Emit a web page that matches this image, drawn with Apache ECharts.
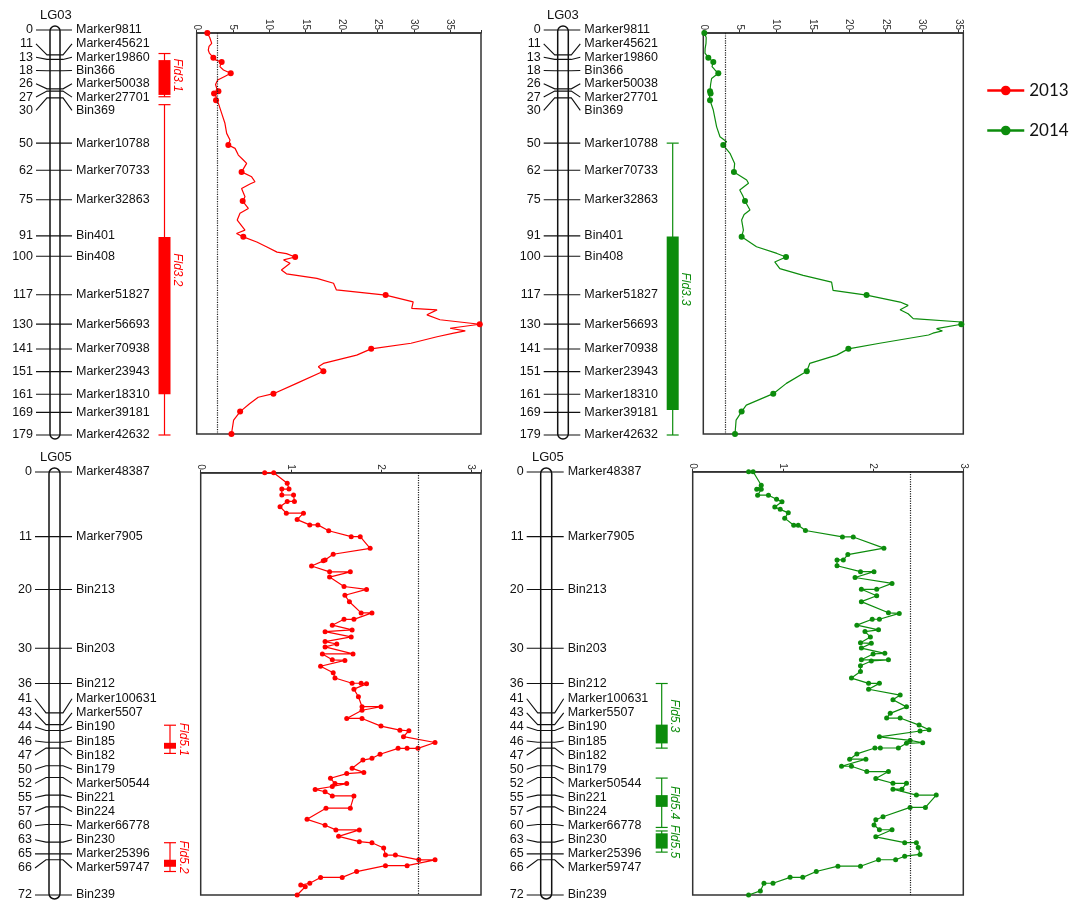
<!DOCTYPE html>
<html>
<head>
<meta charset="utf-8">
<script src="https://cdn.jsdelivr.net/npm/echarts/dist/echarts.min.js"></script>
<style>
html, body { margin: 0; padding: 0; background: #fff; }
#chart { width: 1069px; height: 900px; }
</style>
</head>
<body>
<div id="chart"></div>
<script>
// ---- data ----
var years = ['2013', '2014'];

var lg03Pos = [0, 11, 13, 18, 26, 27, 30, 50, 62, 75, 91, 100, 117, 130, 141, 151, 161, 169, 179];
var lg03Names = ['Marker9811', 'Marker45621', 'Marker19860', 'Bin366', 'Marker50038', 'Marker27701', 'Bin369',
    'Marker10788', 'Marker70733', 'Marker32863', 'Bin401', 'Bin408', 'Marker51827', 'Marker56693',
    'Marker70938', 'Marker23943', 'Marker18310', 'Marker39181', 'Marker42632'];

var lg05Pos = [0, 11, 20, 30, 36, 41, 43, 44, 46, 47, 50, 52, 55, 57, 60, 63, 65, 66, 72];
var lg05Names = ['Marker48387', 'Marker7905', 'Bin213', 'Bin203', 'Bin212', 'Marker100631', 'Marker5507',
    'Bin190', 'Bin185', 'Bin182', 'Bin179', 'Marker50544', 'Bin221', 'Bin224', 'Marker66778',
    'Bin230', 'Marker25396', 'Marker59747', 'Bin239'];

// [position cM, LOD]
var lg03Lod2013 = [[0,1.47],[2,1.8],[4.6,2.07],[6,1.7],[7.6,1.6],[9,1.75],[11,2.3],[12,2.6],[13,3.45],[15,3.2],
    [16.5,3.7],[18,4.7],[19.5,3.8],[21,2.9],[23,2.6],[25,2.8],[26,3.0],[27,2.4],[28.5,2.7],[30,2.67],
    [31.4,3.0],[35.9,3.45],[40.3,3.9],[44.8,4.14],[47.8,4.6],[50,4.37],[51.5,5.3],[54.5,5.75],[56.7,6.44],
    [58.2,6.9],[62,6.2],[64.2,7.59],[66.4,8.05],[67.4,7.36],[69.4,6.2],[73.1,6.67],[75,6.35],[78.3,7.13],
    [80.5,5.98],[83.5,5.6],[88,6.67],[89.5,5.5],[91,6.44],[93.3,8.3],[95.5,9.7],[97.8,11.1],[98.5,12.4],
    [100,13.6],[101.3,12.0],[102.8,12.9],[105.8,11.7],[107.5,12.4],[109.5,16.6],[111.7,18.9],[114.7,19.3],
    [117,26.1],[120,29.9],[122.9,29.7],[123.6,33.2],[125.8,31.8],[128,33.6],[130,39.1],[131.8,35.0],
    [133,37.1],[134,35.5],[135.6,33.2],[138.5,29.6],[141,24.1],[143.8,22.1],[147.5,17.5],[149,16.8],
    [151,17.5],[156.4,13.8],[161,10.6],[162.6,8.5],[165.5,7.3],[169,6.0],[172.8,5.1],[179,4.8]];

var lg03Lod2014 = [[0,0.14],[2,0.4],[4.6,0.37],[7,0.25],[9,0.23],[11,0.69],[13,1.37],[15,1.2],[16.5,1.6],
    [18,2.06],[20.3,1.14],[23,1.0],[26,0.92],[27,1.0],[28.5,0.85],[30,0.92],[34.4,1.37],[41.9,1.83],
    [46.3,2.29],[48.5,3.2],[50,2.74],[53.7,3.66],[58.2,4.3],[62,4.2],[65.6,5.95],[67.1,6.2],[70.1,5.0],
    [72.5,5.4],[75,5.72],[79,6.4],[81,5.6],[83.5,5.26],[88,5.5],[91,5.26],[95.4,7.3],[98.4,10.1],
    [100,11.35],[102.2,9.8],[105.2,10.5],[108.2,13.7],[111.2,17.6],[114.9,17.8],[117,22.4],[120.1,27.0],
    [121.6,28.1],[123.5,27.0],[125.3,28.1],[127.5,28.8],[129,35.4],[130,35.4],[132,32.0],[133,32.8],
    [134,31.5],[134.8,30.9],[138.5,24.2],[141,19.9],[143.8,18.3],[147.5,14.6],[151,14.2],[156.4,11.4],
    [161,9.6],[166.1,5.9],[169,5.26],[172.8,4.5],[179,4.35]];

var lg05Lod2013 = [[0,0.71],[0,0.81],[1.8,0.96],[2.8,0.98],[2.8,0.9],[3.8,0.9],[3.8,1.03],[4.9,1.04],[4.9,0.96],
    [5.8,0.88],[6.9,0.95],[6.9,1.14],[8.0,1.07],[8.9,1.21],[8.9,1.3],[9.9,1.42],[10.9,1.67],[10.9,1.77],
    [12.9,1.88],[13.9,1.47],[14.9,1.38],[15,1.36],[15.9,1.23],[16.9,1.43],[16.9,1.66],[17.8,1.43],[19.4,1.59],
    [19.9,1.84],[20.9,1.6],[22,1.65],[23.9,1.78],[23.9,1.9],[25,1.7],[25,1.59],[26,1.46],[26.8,1.68],
    [27.1,1.38],[28,1.67],[28.8,1.38],[29.2,1.51],[29.7,1.38],[30.9,1.69],[30.9,1.35],[31.9,1.46],[32,1.6],
    [33,1.33],[34.1,1.47],[35,1.49],[35.9,1.68],[35.9,1.78],[36,1.84],[36.9,1.7],[38.2,1.75],[39.9,1.79],
    [39.9,2.0],[40.5,1.79],[41.9,1.62],[41.9,1.79],[43.2,2.0],[43.9,2.21],[44,2.31],[45,2.25],[46,2.6],
    [47,2.41],[47,2.29],[47,2.19],[48,1.99],[48.7,1.9],[49,1.8],[50.4,1.68],[51.1,1.81],[51.3,1.62],
    [52.1,1.44],[53,1.49],[53,1.62],[53.5,1.46],[54,1.27],[54.4,1.38],[55.1,1.46],[55.1,1.7],[57.2,1.66],
    [57.2,1.39],[59.1,1.18],[60.1,1.38],[60.9,1.5],[60.9,1.76],[62,1.53],[62.9,1.76],[63.1,1.9],[64,2.03],
    [65.2,2.05],[65.2,2.16],[66,2.42],[66,2.6],[67,2.29],[67,2.05],[68,1.73],[69,1.57],[69,1.33],[70,1.21],
    [70.3,1.11],[70.6,1.16],[72,1.07]];

var lg05Lod2014 = [[0,0.62],[0,0.67],[2.3,0.76],[3,0.71],[3,0.76],[4,0.72],[4,0.84],[4.7,0.93],[5.1,0.99],
    [6,0.91],[6.4,0.97],[7,1.06],[7.9,1.02],[9.1,1.12],[9.1,1.17],[10,1.25],[11.1,1.66],[11.1,1.78],[13,2.12],
    [14.1,1.72],[15,1.67],[15,1.6],[16,1.6],[17,1.86],[17,2.01],[18,1.8],[19,2.21],[20,2.04],[20,1.87],
    [21.1,2.04],[22.1,1.87],[24,2.17],[24.1,2.29],[25.1,2.07],[25.1,1.99],[26.1,1.82],[26.9,2.06],[27.2,1.91],
    [28.1,1.97],[29.1,1.86],[29.2,1.98],[30,1.87],[30.9,2.13],[31,2.0],[32,1.87],[32,2.17],[32.2,1.98],
    [33,1.86],[34,1.86],[35.1,1.76],[36,1.95],[36,2.07],[37,1.95],[38,2.3],[38.8,2.22],[40,2.37],[41.1,2.19],
    [41.9,2.15],[41.9,2.3],[43.1,2.51],[43.9,2.62],[44.1,2.52],[45.1,2.07],[45.7,2.41],[46.1,2.55],[46.2,2.37],
    [47,2.28],[47,2.08],[47,2.02],[48,1.82],[48.9,1.74],[48.9,1.92],[50.1,1.65],[50.1,1.76],[51,1.93],
    [51,2.17],[52.2,2.03],[53,2.22],[53,2.37],[54,2.32],[54,2.22],[55,2.48],[55,2.7],[57.1,2.58],[57.1,2.41],
    [58.7,2.11],[59.2,2.03],[60.1,2.01],[60.9,2.07],[60.9,2.21],[62.1,2.03],[63.1,2.35],[63.1,2.48],
    [63.9,2.5],[65.1,2.52],[65.4,2.35],[66,2.25],[66,2.06],[67.1,1.86],[67.1,1.61],[68,1.37],[69,1.22],
    [69,1.08],[70,0.89],[70,0.79],[71.3,0.75],[72,0.62]];

// LOD thresholds [2013, 2014]
var lg03Threshold = [2.8, 3.0];
var lg05Threshold = [2.41, 2.41];

// QTL: [whisker start, box start, box end, whisker end] in cM
var qtl2013LG03Names = ['Fld3.1', 'Fld3.2'];
var qtl2013LG03 = [[10.4, 13.3, 28.7, 29.5], [33, 91.5, 161, 179]];
var qtl2014LG03Names = ['Fld3.3'];
var qtl2014LG03 = [[50, 91.3, 168, 179]];
var qtl2013LG05Names = ['Fld5.1', 'Fld5.2'];
var qtl2013LG05 = [[43.1, 46.1, 47.1, 47.9], [63.1, 66.0, 67.2, 68.0]];
var qtl2014LG05Names = ['Fld5.3', 'Fld5.4', 'Fld5.5'];
var qtl2014LG05 = [[36.0, 43.0, 46.2, 47.0], [52.1, 55.0, 57.0, 60.5], [61.1, 61.5, 64.1, 64.7]];

// ---- layout / styles ----
var RED = '#ff0000';
var GREEN = '#0c8c0c';
var FONT = '"Liberation Sans", Arial, sans-serif';

// spread overlapping labels around their cluster centre
function spreadLabels(pos, gap) {
    var cl = pos.map(function (p, i) { return { s: i, e: i, c: p }; });
    var changed = true;
    while (changed) {
        changed = false;
        for (var k = 0; k < cl.length - 1; k++) {
            var a = cl[k], b = cl[k + 1];
            var aBot = a.c + (a.e - a.s) * gap / 2;
            var bTop = b.c - (b.e - b.s) * gap / 2;
            if (bTop - aBot < gap - 1e-9) {
                var sum = 0;
                for (var j = a.s; j <= b.e; j++) sum += pos[j];
                cl.splice(k, 2, { s: a.s, e: b.e, c: sum / (b.e - a.s + 1) });
                changed = true;
                break;
            }
        }
    }
    var out = [];
    cl.forEach(function (c) {
        var n = c.e - c.s;
        for (var j = 0; j <= n; j++) out.push(c.c - n * gap / 2 + j * gap);
    });
    return out;
}

var panels = [
    { title: 'LG03', tl: [40, 9], map: { left: 0, top: 30, width: 200, height: 405 }, chrom: [50, 60], lane: 164.5,
      pos: lg03Pos, names: lg03Names, max: 179, gapPx: 13.3,
      lod: { left: 196.7, top: 33, width: 284.3, height: 401 }, lodMax: 39.27, interval: 5,
      year: 0, curve: lg03Lod2013, thr: lg03Threshold[0], qtl: qtl2013LG03, qtlNames: qtl2013LG03Names, dotsAtMarkers: true },
    { title: 'LG03', tl: [547, 9], map: { left: 490, top: 30, width: 200, height: 405 }, chrom: [67.7, 78.3], lane: 182.7,
      pos: lg03Pos, names: lg03Names, max: 179, gapPx: 13.3,
      lod: { left: 703.3, top: 33, width: 260, height: 401 }, lodMax: 35.67, interval: 5,
      year: 1, curve: lg03Lod2014, thr: lg03Threshold[1], qtl: qtl2014LG03, qtlNames: qtl2014LG03Names, dotsAtMarkers: true },
    { title: 'LG05', tl: [40, 451], map: { left: 0, top: 472, width: 200, height: 423 }, chrom: [49, 60], lane: 170,
      pos: lg05Pos, names: lg05Names, max: 72, gapPx: 14.1,
      lod: { left: 200.7, top: 472.7, width: 280.3, height: 422.3 }, lodMax: 3.11, interval: 1,
      year: 0, curve: lg05Lod2013, thr: lg05Threshold[0], qtl: qtl2013LG05, qtlNames: qtl2013LG05Names, dotsAtMarkers: false },
    { title: 'LG05', tl: [532, 451], map: { left: 490, top: 472, width: 200, height: 423 }, chrom: [50.7, 61.7], lane: 171.7,
      pos: lg05Pos, names: lg05Names, max: 72, gapPx: 14.1,
      lod: { left: 692.7, top: 471.7, width: 270.6, height: 423.3 }, lodMax: 3.0, interval: 1,
      year: 1, curve: lg05Lod2014, thr: lg05Threshold[1], qtl: qtl2014LG05, qtlNames: qtl2014LG05Names, dotsAtMarkers: false }
];

var grids = [], xAxes = [], yAxes = [], series = [], titles = [];

panels.forEach(function (p, i) {
    var color = p.year === 0 ? RED : GREEN;
    var mapIdx = i * 2, lodIdx = i * 2 + 1;
    titles.push({ text: p.title, left: p.tl[0], top: p.tl[1], padding: 0,
        textStyle: { fontSize: 13, fontWeight: 'normal', fontFamily: FONT, color: '#111' } });

    // map grid: x in px offset, y in cM
    grids.push({ left: p.map.left, top: p.map.top, width: p.map.width, height: p.map.height, show: false });
    xAxes.push({ gridIndex: mapIdx, type: 'value', min: 0, max: p.map.width, show: false });
    yAxes.push({ gridIndex: mapIdx, type: 'value', min: 0, max: p.max, inverse: true, show: false });

    // LOD grid
    grids.push({ left: p.lod.left, top: p.lod.top, width: p.lod.width, height: p.lod.height,
        show: true, borderColor: '#333', borderWidth: 1.5, backgroundColor: 'transparent' });
    xAxes.push({ gridIndex: lodIdx, type: 'value', position: 'top', min: 0, max: p.lodMax, interval: p.interval,
        axisLine: { show: true, lineStyle: { color: '#333', width: 1.5 } },
        axisTick: { show: true, length: 3, lineStyle: { color: '#333' } },
        splitLine: { show: false },
        axisLabel: { rotate: -90, margin: 3, fontSize: 10, fontFamily: FONT, color: '#333',
            formatter: function (v) { return Math.abs(v / p.interval - Math.round(v / p.interval)) < 1e-6 ? String(v) : ''; } } });
    yAxes.push({ gridIndex: lodIdx, type: 'value', min: 0, max: p.max, inverse: true, show: false });

    var gap = p.gapPx / (p.map.height / p.max);
    var labelPos = spreadLabels(p.pos, gap);
    var chromL = p.chrom[0], chromR = p.chrom[1];

    // chromosome body
    series.push({
        type: 'custom', xAxisIndex: mapIdx, yAxisIndex: mapIdx, silent: true, z: 2,
        data: [[0, p.max]],
        renderItem: function (params, api) {
            var x0 = api.coord([0, 0])[0];
            var yTop = api.coord([0, api.value(0)])[1] - 4;
            var yBot = api.coord([0, api.value(1)])[1] + 4;
            return { type: 'rect', shape: { x: x0 + chromL, y: yTop, width: chromR - chromL, height: yBot - yTop, r: (chromR - chromL) / 2 },
                style: { fill: '#fff', stroke: '#111', lineWidth: 1.5 } };
        }
    });

    // markers
    series.push({
        type: 'custom', xAxisIndex: mapIdx, yAxisIndex: mapIdx, silent: true, z: 3,
        data: p.pos.map(function (v, k) { return [v, labelPos[k]]; }),
        renderItem: function (params, api) {
            var pos = api.value(0), lab = api.value(1);
            var x0 = api.coord([0, 0])[0];
            var yc = api.coord([0, pos])[1], yl = api.coord([0, lab])[1];
            var L = x0 + chromL, R = x0 + chromR;
            return { type: 'group', children: [
                { type: 'polyline', shape: { points: [[L - 14, yl], [L - 3, yc], [R + 3, yc], [R + 12, yl]] },
                    style: { stroke: '#111', lineWidth: 1.1, fill: null } },
                { type: 'text', x: L - 17, y: yl, style: { text: String(pos), textAlign: 'right', verticalAlign: 'middle',
                    textVerticalAlign: 'middle', font: '12.5px ' + FONT, fill: '#111' } },
                { type: 'text', x: R + 16, y: yl, style: { text: p.names[params.dataIndex], textAlign: 'left', verticalAlign: 'middle',
                    textVerticalAlign: 'middle', font: '12.5px ' + FONT, fill: '#111' } }
            ] };
        }
    });

    // QTL intervals
    series.push({
        type: 'custom', xAxisIndex: mapIdx, yAxisIndex: mapIdx, silent: true, z: 3,
        data: p.qtl,
        renderItem: function (params, api) {
            var x0 = api.coord([0, 0])[0];
            var cx = x0 + p.lane;
            var y = [0, 1, 2, 3].map(function (d) { return api.coord([0, api.value(d)])[1]; });
            var ls = { stroke: color, lineWidth: 1.2 };
            return { type: 'group', children: [
                { type: 'line', shape: { x1: cx, y1: y[0], x2: cx, y2: y[3] }, style: ls },
                { type: 'line', shape: { x1: cx - 6, y1: y[0], x2: cx + 6, y2: y[0] }, style: ls },
                { type: 'line', shape: { x1: cx - 6, y1: y[3], x2: cx + 6, y2: y[3] }, style: ls },
                { type: 'rect', shape: { x: cx - 6, y: y[1], width: 12, height: y[2] - y[1] }, style: { fill: color } },
                { type: 'text', x: cx + 13, y: (y[0] + y[3]) / 2, rotation: -Math.PI / 2,
                    style: { text: p.qtlNames[params.dataIndex], textAlign: 'center', verticalAlign: 'middle',
                        textVerticalAlign: 'middle', font: 'italic 12px ' + FONT, fill: color } }
            ] };
        }
    });

    // LOD curve
    series.push({
        name: years[p.year], type: 'line', xAxisIndex: lodIdx, yAxisIndex: lodIdx, z: 4,
        color: color, symbol: 'circle', symbolSize: p.dotsAtMarkers ? 6 : 5, showSymbol: true,
        lineStyle: { color: color, width: 1.2 }, itemStyle: { color: color },
        data: p.curve.map(function (d) {
            var item = { value: [d[1], d[0]] };
            if (p.dotsAtMarkers && p.pos.indexOf(d[0]) < 0) item.symbol = 'none';
            return item;
        }),
        markLine: { silent: true, symbol: 'none', label: { show: false },
            lineStyle: { color: '#222', type: 'dotted', width: 1.2 },
            data: [{ xAxis: p.thr }] }
    });
});

var chart = echarts.init(document.getElementById('chart'));
chart.setOption({
    animation: false,
    backgroundColor: '#fff',
    title: titles,
    legend: {
        data: years, orient: 'vertical', left: 981, top: 77, itemGap: 23,
        itemWidth: 37, itemHeight: 12, selectedMode: false,
        lineStyle: { width: 2.5 },
        textStyle: { fontSize: 17, fontFamily: 'Lato, "Open Sans", sans-serif', color: '#111' }
    },
    grid: grids,
    xAxis: xAxes,
    yAxis: yAxes,
    series: series
});
</script>
</body>
</html>
